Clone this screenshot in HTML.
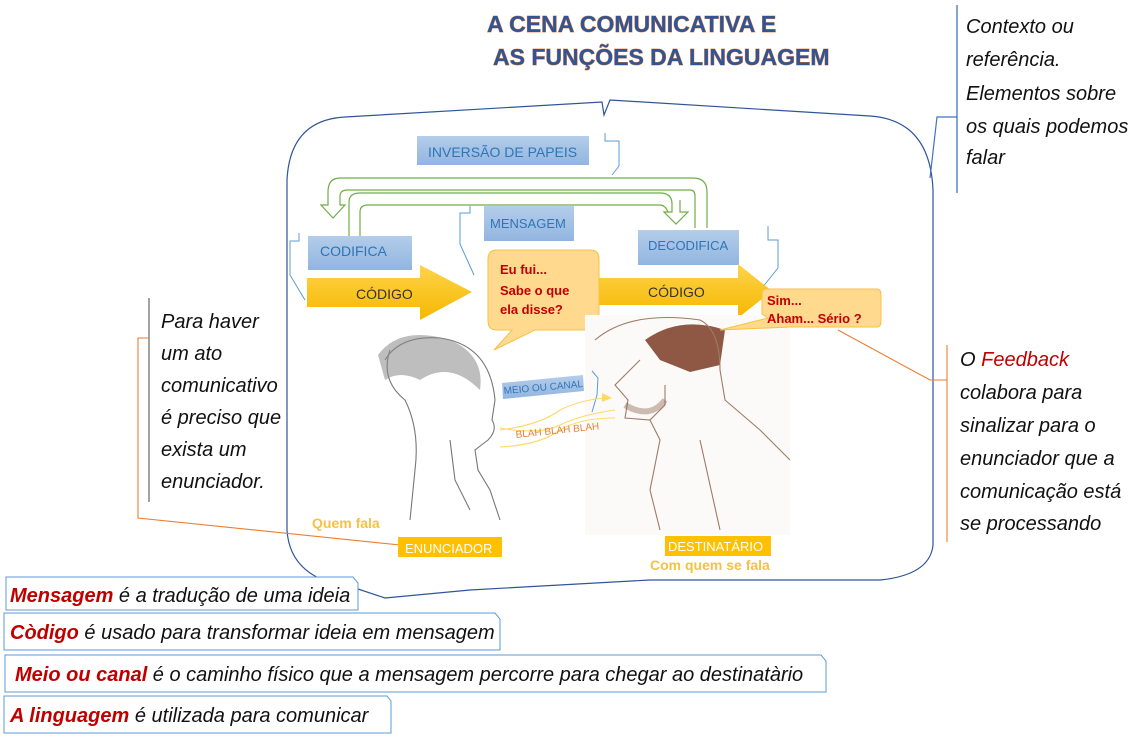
<!DOCTYPE html>
<html><head><meta charset="utf-8"><style>
html,body{margin:0;padding:0;background:#fff;width:1132px;height:738px;overflow:hidden}
svg text{font-family:"Liberation Sans",sans-serif}
svg .cur text{font-style:italic;fill:#111;font-size:20px}
.red{fill:#c00000;font-weight:bold}
</style></head><body>
<svg width="1132" height="738" viewBox="0 0 1132 738" xmlns="http://www.w3.org/2000/svg">
<defs>
<linearGradient id="bl" x1="0" y1="0" x2="0" y2="1"><stop offset="0" stop-color="#b4cdea"/><stop offset="1" stop-color="#92b5e0"/></linearGradient>
<linearGradient id="yl" x1="0" y1="0" x2="0" y2="1"><stop offset="0" stop-color="#ffd34a"/><stop offset="1" stop-color="#f5b800"/></linearGradient>
</defs>
<g font-weight="bold" font-size="23" fill="#2f5597" stroke="#ed7d31" stroke-width="0.8" paint-order="stroke">
<text x="487" y="32">A CENA COMUNICATIVA E</text>
<text x="493" y="65">AS FUNÇÕES DA LINGUAGEM</text>
</g>
<path d="M345 117 L602 102 L604 115 L610 100 L870 116 Q930 120 933 190 L933 545 Q930 575 880 580 L650 580 L470 590 L385 598 L355 588 Q290 580 287 530 L287 180 Q290 120 345 117 Z" fill="none" stroke="#2f5597" stroke-width="1.2"/>
<line x1="957" y1="5" x2="957" y2="193" stroke="#4472c4" stroke-width="1.3"/>
<polyline points="957,117 937,117 930,178" fill="none" stroke="#4472c4" stroke-width="1.2"/>
<g class="cur"><text x="966" y="33">Contexto ou</text><text x="966" y="66">referência.</text><text x="966" y="100">Elementos sobre</text><text x="966" y="133">os quais podemos</text><text x="966" y="164">falar</text></g>
<line x1="149" y1="298" x2="149" y2="502" stroke="#444" stroke-width="1"/>
<polyline points="149,338 138,338 138,518 400,545" fill="none" stroke="#ed7d31" stroke-width="1.1"/>
<g class="cur"><text x="161" y="328">Para haver</text><text x="161" y="360">um ato</text><text x="161" y="392">comunicativo</text><text x="161" y="424">é preciso que</text><text x="161" y="456">exista um</text><text x="161" y="488">enunciador.</text></g>
<line x1="947" y1="345" x2="947" y2="542" stroke="#ed7d31" stroke-width="1.1"/>
<polyline points="947,380 930,380 838,330" fill="none" stroke="#ed7d31" stroke-width="1.1"/>
<g class="cur"><text x="960" y="366">O <tspan fill="#c00000">Feedback</tspan></text><text x="960" y="399">colabora para</text><text x="960" y="432">sinalizar para o</text><text x="960" y="465">enunciador que a</text><text x="960" y="498">comunicação está</text><text x="960" y="530">se processando</text></g>
<g fill="none" stroke="#70ad47" stroke-width="1.2">
<path d="M707 228 L707 192 Q707 178 693 178 L340 178 Q328 178 328 192 L328 205 L321 205 L333 218 L345 205 L340 205 L340 196 Q340 190 348 190 L690 190 Q695 190 695 196 L695 228"/>
<path d="M349 236 L349 202 Q349 193 360 193 L660 193 Q672 193 672 204 L672 212 L664 212 L676 224 L688 212 L680 212 L680 200"/>
<path d="M360 236 L360 212 Q360 205 368 205 L660 205 Q665 205 668 212"/>
</g>
<rect x="417" y="136" width="172" height="29" fill="url(#bl)"/><text x="428" y="157" font-size="14" fill="#2e75b6">INVERSÃO DE PAPEIS</text>
<polyline points="605,133 605,141 619,141 619,166 612,175" fill="none" stroke="#5b9bd5" stroke-width="1"/>
<rect x="484" y="206" width="90" height="35" fill="url(#bl)"/><text x="490" y="228" font-size="13" fill="#2e75b6">MENSAGEM</text>
<polyline points="470,206 470,213 460,213 460,244 474,275" fill="none" stroke="#5b9bd5" stroke-width="1"/>
<rect x="308" y="236" width="104" height="34" fill="url(#bl)"/><text x="320" y="256" font-size="14" fill="#2e75b6">CODIFICA</text>
<polyline points="299,233 299,241 290,241 290,275 305,300" fill="none" stroke="#5b9bd5" stroke-width="1"/>
<rect x="638" y="230" width="101" height="35" fill="url(#bl)"/><text x="648" y="250" font-size="13" fill="#2e75b6">DECODIFICA</text>
<polyline points="768,226 768,240 778,240 778,268 762,288" fill="none" stroke="#5b9bd5" stroke-width="1"/>
<path d="M307 278 L420 278 L420 265 L472 292 L420 320 L420 307 L307 307 Z" fill="url(#yl)"/>
<text x="356" y="299" font-size="14" fill="#333">CÓDIGO</text>
<path d="M598 278 L738 278 L738 264 L772 291 L738 318 L738 305 L598 305 Z" fill="url(#yl)"/>
<text x="648" y="297" font-size="14" fill="#333">CÓDIGO</text>
<path d="M497 250 L590 250 Q599 250 599 259 L599 321 Q599 330 590 330 L535 330 L494 350 L512 330 L497 330 Q488 330 488 321 L488 259 Q488 250 497 250 Z" fill="#fed98e" stroke="#f5c242" stroke-width="1"/>
<g font-size="13" font-weight="bold" fill="#c00000"><text x="500" y="274">Eu fui...</text><text x="500" y="295">Sabe o que</text><text x="500" y="314">ela disse?</text></g>
<!-- woman sketch approximation -->
<g fill="none" stroke="#777" stroke-width="1.1">
<path d="M385 360 Q400 335 440 338 Q490 345 495 400 L492 420 Q498 430 488 440 L475 450 L478 470 L490 490 L500 520"/>
<path d="M390 350 Q380 380 405 400 Q420 430 415 470 L410 520"/>
<path d="M450 440 L455 480 L470 510"/>
</g>
<path d="M378 355 Q400 325 450 340 Q485 355 480 390 Q450 360 420 380 Q400 370 385 380 Z" fill="#888" opacity="0.55"/>
<!-- man sketch approximation -->
<rect x="585" y="315" width="205" height="220" fill="#fbfaf8"/>
<path d="M645 340 Q680 315 725 330 L720 365 L690 372 L660 360 Z" fill="#7a3b24" opacity="0.85"/>
<g fill="none" stroke="#a07a66" stroke-width="1.1">
<path d="M595 340 Q630 310 700 320 Q720 330 720 370 L725 400 L760 430 L790 460"/>
<path d="M640 360 L615 385 L628 400 L625 418 L650 420 L665 405 L665 385"/>
<path d="M650 420 L660 440 L650 490 L660 530"/>
<path d="M700 440 L720 530"/>
</g>
<path d="M625 405 Q650 420 665 400" fill="none" stroke="#8a5a44" stroke-width="6" opacity="0.4"/>
<path d="M766 289 L876 289 Q881 289 881 294 L881 322 Q881 327 876 327 L790 327 L720 330 L768 318 L762 314 L762 294 Q762 289 766 289 Z" fill="#fed98e" stroke="#f5c242" stroke-width="1"/>
<g font-size="13" font-weight="bold" fill="#c00000"><text x="767" y="305">Sim...</text><text x="767" y="323">Aham... Sério ?</text></g>
<polygon points="502,383 583,375 584,391 503,399" fill="url(#bl)"/>
<text x="504" y="394" font-size="10" fill="#2e75b6" transform="rotate(-5 504 394)">MEIO OU CANAL</text>
<polyline points="592,371 598,378 597,395 592,412" fill="none" stroke="#5b9bd5" stroke-width="1"/>
<g fill="none" stroke="#ffd966" stroke-width="1.1">
<path d="M500 430 Q540 425 560 410 Q580 400 605 398"/>
<path d="M500 447 Q540 445 560 430 Q580 418 615 418"/>
<path d="M500 428 Q540 435 560 425 Q580 415 615 410"/>
</g>
<polygon points="602,393 612,398 602,402" fill="#ffd966"/>
<text x="516" y="438" font-size="10" fill="#ed7d31" transform="rotate(-6 516 438)">BLAH BLAH BLAH</text>
<text x="312" y="528" font-size="14" font-weight="bold" fill="#f5c242">Quem fala</text>
<rect x="398" y="537" width="104" height="20" fill="#ffc000"/><text x="405" y="553" font-size="13" fill="#fff">ENUNCIADOR</text>
<rect x="665" y="536" width="106" height="20" fill="#ffc000"/><text x="668" y="551" font-size="13" fill="#fff">DESTINATÁRIO</text>
<text x="650" y="570" font-size="14" font-weight="bold" fill="#f5c242">Com quem se fala</text>
<g fill="#fff" stroke="#5b9bd5" stroke-width="1">
<path d="M6 577 L353 577 L358 583 L358 610 L6 610 Z"/>
<path d="M4 613 L495 613 L500 619 L500 650 L4 650 Z"/>
<path d="M5 655 L821 655 L826 661 L826 692 L5 692 Z"/>
<path d="M4 696 L387 696 L391 701 L391 733 L4 733 Z"/>
</g>
<g class="cur">
<text x="10" y="602"><tspan class="red">Mensagem</tspan> é a tradução de uma ideia</text>
<text x="10" y="639"><tspan class="red">Còdigo</tspan> é usado para transformar ideia em mensagem</text>
<text x="15" y="681"><tspan class="red">Meio ou canal</tspan> é o caminho físico que a mensagem percorre para chegar ao destinatàrio</text>
<text x="10" y="722"><tspan class="red">A linguagem</tspan> é utilizada para comunicar</text>
</g>
</svg>
</body></html>
